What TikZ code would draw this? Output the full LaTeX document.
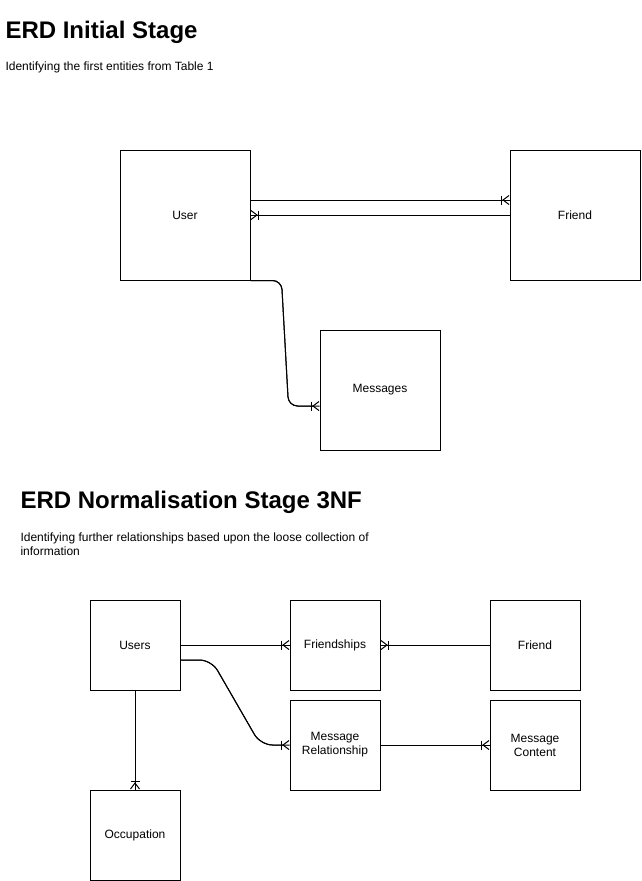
\documentclass[tikz,border=0pt]{standalone}
\usepackage{fontspec}
\setmainfont{Liberation Sans}
\usetikzlibrary{arrows.meta}

\tikzset{
  crowfoot/.style={postaction={draw,-{Bar[width=9pt,sep=0pt]Straight Barb[reversed,length=6pt,width=9pt]}}}
}

\begin{document}
\begin{tikzpicture}[x=1pt,y=-1pt,line width=1pt]
      \useasboundingbox (0,0) rectangle (641,881);
      % headings
      \begin{scope}[every node/.style={anchor=base west,inner sep=0pt,font=\fontsize{24pt}{28pt}\selectfont\bfseries}]
        \node (title1) at (5,38) {ERD Initial Stage};
        \node (title2) at (20,508) {ERD Normalisation Stage 3NF};
      \end{scope}
      \begin{scope}[every node/.style={anchor=west,inner sep=0pt,align=left,font=\fontsize{12pt}{14pt}\selectfont}]
        \node (intro1) at (5,67) {Identifying the first entities from Table 1};
        \node (intro2) at (20,544) {Identifying further relationships based upon the loose collection of\\information};
      \end{scope}
      % entities
      \begin{scope}[every node/.style={rectangle,draw,align=center,font=\fontsize{12pt}{14pt}\selectfont}]
        \node[minimum size=130pt] (user) at (185,215) {User};
        \node[minimum size=130pt] (friend) at (575,215) {Friend};
        \node[minimum size=120pt] (messages) at (380,390) {Messages};
        \node[minimum size=90pt] (users) at (135,645) {Users};
        \node[minimum size=90pt] (friendships) at (335,645) {Friendships};
        \node[minimum size=90pt] (friendB) at (535,645) {Friend};
        \node[minimum size=90pt] (msgrel) at (335,745) {Message\\Relationship};
        \node[minimum size=90pt] (msgcontent) at (535,745) {Message\\Content};
        \node[minimum size=90pt] (occupation) at (135,835) {Occupation};
      \end{scope}
      % relationships
      \begin{scope}[every edge/.style={draw,crowfoot}]
        \path ([yshift=15pt]user.east) edge ([yshift=15pt]friend.west);
        \path (friend.west) edge (user.east);
        \path (users.east) edge (friendships.west);
        \path (friendB.west) edge (friendships.east);
        \path (msgrel.east) edge (msgcontent.west);
        \path (users.south) edge (occupation.north);
      \end{scope}
      \draw[crowfoot,rounded corners=9pt] (user.south east) -- ([xshift=31pt]user.south east)
        -- ([xshift=-31pt,yshift=-16pt]messages.west) -- ([yshift=-16pt]messages.west);
      \draw[crowfoot,rounded corners=12pt] ([yshift=-15pt]users.east) -- ([xshift=31pt,yshift=-15pt]users.east)
        -- ([xshift=-29pt]msgrel.west) -- (msgrel.west);
    \end{tikzpicture}
\end{document}
